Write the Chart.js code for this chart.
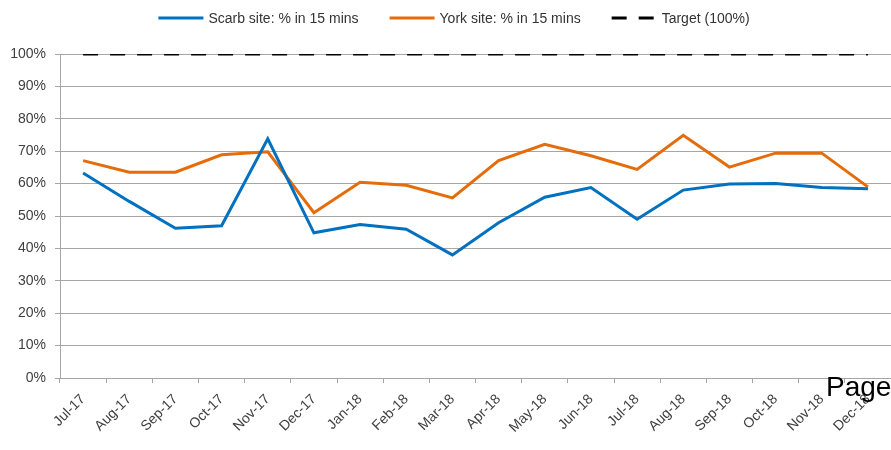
<!DOCTYPE html>
<html>
<head>
<meta charset="utf-8">
<script src="https://cdn.jsdelivr.net/npm/chart.js@4/dist/chart.umd.min.js"></script>
<style>
  html, body { margin: 0; padding: 0; background: #fff; }
  #wrap { position: relative; width: 891px; height: 450px; overflow: hidden; }
  #page { position: absolute; left: 826px; top: 373px; font: 28px "Liberation Sans", Arial, sans-serif; line-height: 28px; color: #000; white-space: nowrap; }
</style>
</head>
<body>
<div id="wrap">
  <canvas id="chart" width="891" height="450"></canvas>
  <div id="page">Page</div>
</div>
<script>
'use strict';

var months = ['Jul-17', 'Aug-17', 'Sep-17', 'Oct-17', 'Nov-17', 'Dec-17', 'Jan-18', 'Feb-18', 'Mar-18',
              'Apr-18', 'May-18', 'Jun-18', 'Jul-18', 'Aug-18', 'Sep-18', 'Oct-18', 'Nov-18', 'Dec-18'];
var scarb  = [63.3, 54.5, 46.2, 47.0, 73.8, 44.8, 47.4, 45.9, 38.0, 47.9, 55.8, 58.8, 49.0, 58.0, 59.9, 60.0, 58.8, 58.4];
var york   = [67.1, 63.5, 63.5, 68.9, 69.8, 51.0, 60.4, 59.5, 55.6, 67.1, 72.1, 68.6, 64.4, 74.9, 65.1, 69.4, 69.4, 59.0];
var target = [100, 100, 100, 100, 100, 100, 100, 100, 100, 100, 100, 100, 100, 100, 100, 100, 100, 100];
var yTicks = [0, 10, 20, 30, 40, 50, 60, 70, 80, 90, 100];

var FONT = '"Liberation Sans", Arial, sans-serif';
var GRID = '#a6a6a6';

// legend drawn across the top, line sample + label
var topLegend = {
    id: 'topLegend',
    afterDraw: function (chart) {
        var ctx = chart.ctx;
        var sets = chart.data.datasets;
        var sample = 45, gap = 5, spacing = 31, y = 18;
        ctx.save();
        ctx.font = '14px ' + FONT;
        var total = 0;
        sets.forEach(function (ds, i) {
            total += sample + gap + ctx.measureText(ds.label).width + (i ? spacing : 0);
        });
        var x = 454 - total / 2;
        sets.forEach(function (ds) {
            ctx.beginPath();
            ctx.strokeStyle = ds.borderColor;
            ctx.lineWidth = ds.borderWidth;
            ctx.setLineDash(ds.borderDash || []);
            ctx.moveTo(x, y);
            ctx.lineTo(x + sample, y);
            ctx.stroke();
            ctx.setLineDash([]);
            ctx.fillStyle = '#333';
            ctx.textBaseline = 'middle';
            ctx.fillText(ds.label, x + sample + gap, y + 1);
            x += sample + gap + ctx.measureText(ds.label).width + spacing;
        });
        ctx.restore();
    }
};

new Chart(document.getElementById('chart'), {
    type: 'line',
    data: {
        labels: months,
        datasets: [{
            label: 'Scarb site: % in 15 mins',
            data: scarb,
            borderColor: '#0070C0',
            borderWidth: 3,
            pointRadius: 0,
            tension: 0
        }, {
            label: 'York site: % in 15 mins',
            data: york,
            borderColor: '#E46C0A',
            borderWidth: 3,
            pointRadius: 0,
            tension: 0
        }, {
            label: 'Target (100%)',
            data: target,
            borderColor: '#000',
            borderWidth: 3,
            borderDash: [15, 12],
            borderCapStyle: 'butt',
            pointRadius: 0,
            tension: 0
        }]
    },
    options: {
        responsive: false,
        animation: false,
        layout: { padding: { top: 54, right: 0, left: 0, bottom: 0 } },
        plugins: {
            legend: { display: false },
            tooltip: { enabled: false }
        },
        scales: {
            x: {
                offset: true,
                grid: { offset: true, drawOnChartArea: false, drawTicks: true, tickLength: 5, color: GRID },
                border: { color: GRID },
                ticks: { minRotation: 45, maxRotation: 45, autoSkip: false, color: '#404040', font: { family: FONT, size: 14 }, padding: 8 },
                afterFit: function (s) { s.height = 72; }
            },
            y: {
                min: 0,
                max: 100,
                afterBuildTicks: function (s) { s.ticks = yTicks.map(function (v) { return { value: v }; }); },
                grid: { color: GRID, tickLength: 5 },
                border: { color: GRID },
                ticks: {
                    color: '#404040',
                    font: { family: FONT, size: 14 },
                    padding: 9,
                    callback: function (v) { return v + '%'; }
                },
                afterFit: function (s) { s.width = 60; }
            }
        }
    },
    plugins: [topLegend]
});
</script>
</body>
</html>
